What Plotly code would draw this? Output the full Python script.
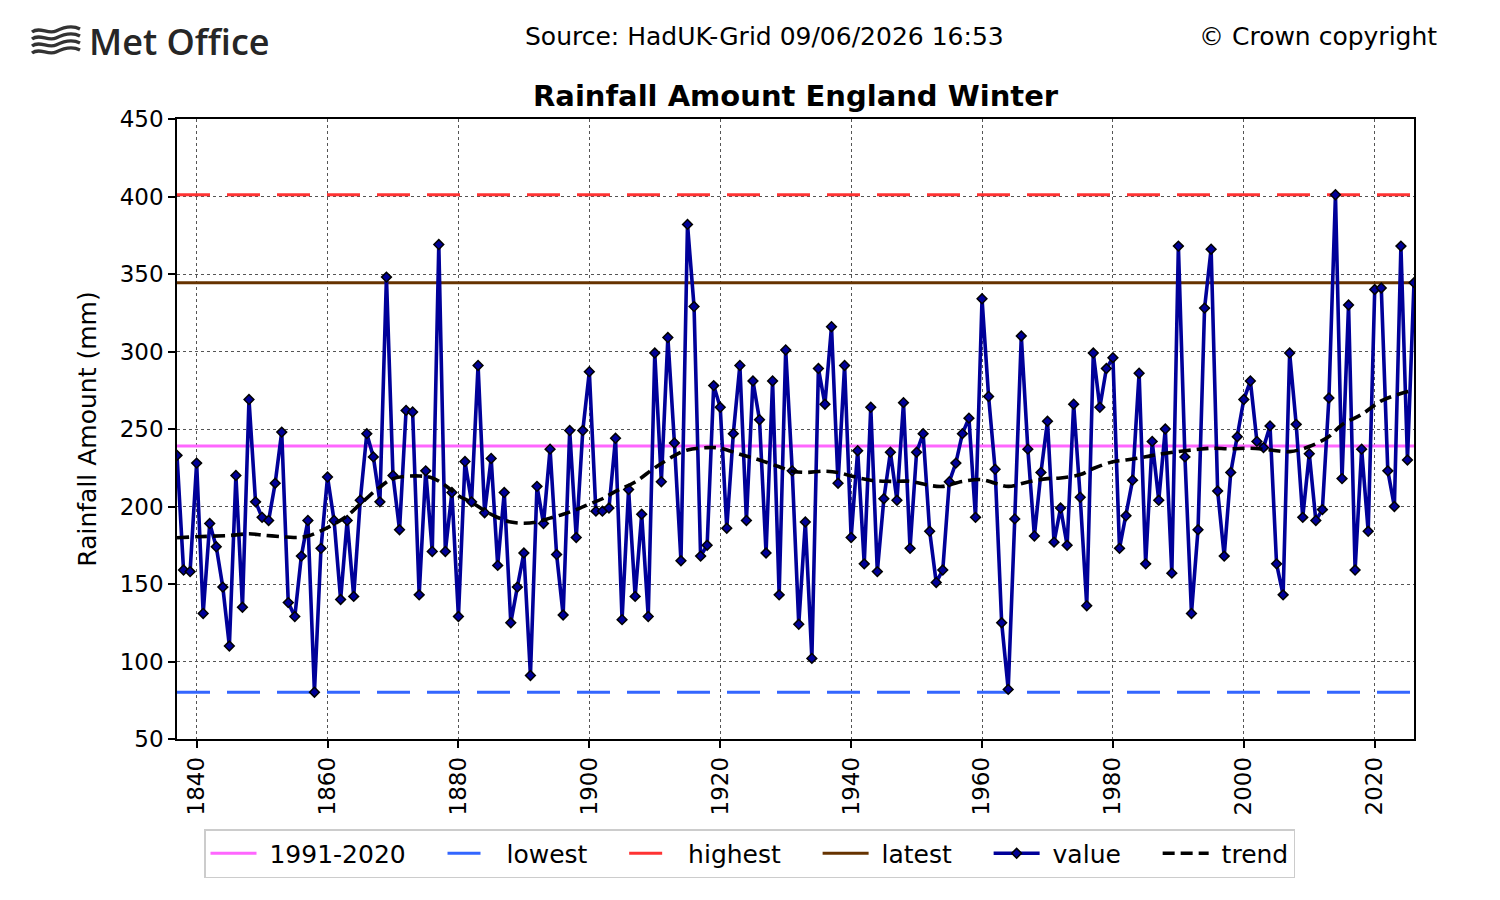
import plotly.graph_objects as go

# Pluie hiver Angleterre (HadUK-Grid)
annees = list(range(1837, 2027))
valeurs = [
    233, 159, 158, 228, 131, 189, 174, 148, 110, 220,   # 1837-1846
    135, 269, 203, 193, 191, 215, 248, 138, 129, 168,   # 1847-1856
    191, 80.2, 173, 219, 191, 140, 191, 142, 204, 247,  # 1857-1866
    232, 203, 348, 220, 185, 262, 261, 143, 223, 171,   # 1867-1876
    369, 171, 209, 129, 229, 203, 291, 196, 231, 162,   # 1877-1886
    209, 125, 148, 170, 91, 213, 189, 237, 169, 130,    # 1887-1896
    249, 180, 249, 287, 197, 197, 199, 244, 127, 211,   # 1897-1906
    142, 195, 129, 299, 216, 309, 241, 165, 382, 329,   # 1907-1916
    168, 175, 278, 264, 186, 247, 291, 191, 281, 256,   # 1917-1926
    170, 281, 143, 301, 223, 124, 190, 102, 289, 266,   # 1927-1936
    316, 215, 291, 180, 236, 163, 264, 158, 205, 235,   # 1937-1946
    204, 267, 173, 235, 247, 184, 151, 159, 216, 228,   # 1947-1956
    247, 257, 193, 334, 271, 224, 125, 82, 192, 310,    # 1957-1966
    237, 181, 222, 255, 177, 199, 175, 266, 206, 136,   # 1967-1976
    299, 264, 289, 296, 173, 194, 217, 286, 163, 242,   # 1977-1986
    204, 250, 157, 368, 232, 131, 185, 328, 366, 210,   # 1987-1996
    168, 222, 245, 269, 281, 242, 238, 252, 163, 143,   # 1997-2006
    299, 253, 193, 234, 191, 198, 270, 401.1, 218, 330, # 2007-2016
    159, 237, 184, 340, 341, 223, 200, 368, 230, 344.4, # 2017-2026
]

# tendance lissée (lue à quelques années)
annees_tendance = [1837, 1840, 1845, 1848, 1850, 1853, 1855, 1857, 1860, 1863,
                   1865, 1868, 1870, 1874, 1876, 1878, 1880, 1882, 1884, 1886,
                   1888, 1890, 1892, 1894, 1896, 1898, 1900, 1902, 1904, 1907,
                   1910, 1913, 1915, 1918, 1920, 1923, 1926, 1929, 1931, 1933,
                   1936, 1938, 1940, 1943, 1946, 1949, 1952, 1954, 1957, 1960,
                   1962, 1964, 1967, 1970, 1972, 1975, 1977, 1980, 1982, 1985,
                   1987, 1990, 1993, 1995, 1998, 2001, 2004, 2007, 2010, 2013,
                   2015, 2018, 2021, 2024, 2026]
tendance = [179.8, 180.5, 181.3, 182.4, 181.6, 180.5, 180.0, 181.0, 186.4, 194.0,
            201.6, 212.5, 218.0, 219.7, 218.4, 213.6, 207.0, 202.7, 197.3, 192.9,
            190.0, 189.2, 190.0, 192.5, 195.0, 198.0, 201.6, 205.0, 209.7, 215.8,
            225.0, 232.8, 236.5, 238.0, 237.6, 233.7, 230.0, 225.6, 222.8, 222.0,
            222.8, 222.0, 219.7, 216.9, 216.2, 216.2, 213.6, 213.0, 216.2, 217.3,
            215.0, 213.0, 215.8, 218.0, 218.4, 220.6, 224.5, 228.9, 230.0, 232.1,
            233.7, 235.4, 236.9, 237.6, 237.2, 237.6, 236.5, 235.4, 238.7, 245.2,
            252.8, 259.4, 268.1, 272.9, 275.0]

moyenne_1991_2020 = 239.1
plus_bas = min(valeurs)
plus_haut = max(valeurs)
dernier = valeurs[-1]

police = "DejaVu Sans"
bords_x = [annees[0], annees[-1]]
nbsp = "\u00a0"

def nom(texte, fin=True):
    # espacement comme dans la légende matplotlib
    return nbsp + texte + (nbsp * 4 if fin else "")

fig = go.Figure()

# lignes de référence
fig.add_trace(go.Scatter(x=bords_x, y=[moyenne_1991_2020] * 2, mode="lines", name=nom("1991-2020"),
                         line=dict(color="#ff66ff", width=3)))
fig.add_trace(go.Scatter(x=bords_x, y=[plus_bas] * 2, mode="lines", name=nom("lowest"),
                         line=dict(color="#3366ff", width=3, dash="33px,17px")))
fig.add_trace(go.Scatter(x=bords_x, y=[plus_haut] * 2, mode="lines", name=nom("highest"),
                         line=dict(color="#ff3333", width=3, dash="33px,17px")))
fig.add_trace(go.Scatter(x=bords_x, y=[dernier] * 2, mode="lines", name=nom("latest"),
                         line=dict(color="#663300", width=3)))

# série principale
fig.add_trace(go.Scatter(x=annees, y=valeurs, mode="lines+markers", name=nom("value"),
                         line=dict(color="#000099", width=3.6),
                         marker=dict(symbol="diamond", size=7.5, color="#000099",
                                     line=dict(color="black", width=1.5))))

# tendance
fig.add_trace(go.Scatter(x=annees_tendance, y=tendance, mode="lines", name=nom("trend", fin=False),
                         line=dict(color="black", width=3.6, dash="12px,6px", shape="spline", smoothing=1.0)))

# conversion pixels écran -> coordonnées papier (zone du graphe 177..1414 x 119..739)
def px(x):
    return (x - 177) / 1237

def py(y):
    return (739 - y) / 620

# petit logo Met Office (vagues)
vagues = []
for y0 in [30, 37, 44, 51]:
    chemin = "M {:.5f},{:.5f} C {:.5f},{:.5f} {:.5f},{:.5f} {:.5f},{:.5f} S {:.5f},{:.5f} {:.5f},{:.5f}".format(
        px(32), py(y0 + 2),
        px(40), py(y0 - 4), px(48), py(y0 + 5), px(56), py(y0 + 1),
        px(72), py(y0 - 5), px(80), py(y0 - 1))
    vagues.append(dict(type="path", path=chemin, xref="paper", yref="paper",
                       line=dict(color="#333333", width=3.4)))

annotations = [
    dict(text="<b>Rainfall Amount England Winter</b>", x=0.5, y=py(96), xref="paper", yref="paper",
         showarrow=False, font=dict(family=police, size=29, color="black"), xanchor="center", yanchor="middle"),
    dict(text="Source: HadUK-Grid 09/06/2026 16:53", x=px(764), y=py(37), xref="paper", yref="paper",
         showarrow=False, font=dict(family=police, size=25, color="black"), xanchor="center", yanchor="middle"),
    dict(text="© Crown copyright", x=px(1439), y=py(37), xref="paper", yref="paper",
         showarrow=False, font=dict(family=police, size=25, color="black"), xanchor="right", yanchor="middle"),
    dict(text="Met Office", x=px(87), y=py(42), xref="paper", yref="paper",
         showarrow=False, font=dict(family="Open Sans", size=36, color="#262626", weight=650),
         xanchor="left", yanchor="middle"),
]

fig.update_layout(
    width=1500, height=900,
    paper_bgcolor="white", plot_bgcolor="white",
    # la page décale la figure de 8 px : marges compensées
    margin=dict(l=169, r=94, t=111, b=169),
    font=dict(family=police, size=23, color="black"),
    showlegend=True,
    legend=dict(orientation="h", x=px(749.5), xanchor="center", y=py(829), yanchor="top",
                bordercolor="#cccccc", borderwidth=1.5, bgcolor="white",
                font=dict(family=police, size=25), itemwidth=46),
    annotations=annotations,
    shapes=vagues,
)

fig.update_xaxes(range=bords_x, tickmode="array", tickvals=list(range(1840, 2021, 20)),
                 tickangle=-90, ticks="outside", ticklen=7, tickwidth=1.5, tickcolor="black",
                 showline=True, linecolor="black", linewidth=1.5, mirror=True,
                 showgrid=True, gridcolor="#555555", griddash="dot", gridwidth=1.3, zeroline=False)
fig.update_yaxes(range=[50, 450], dtick=50, ticks="outside", ticklen=7, tickwidth=1.5, tickcolor="black",
                 showline=True, linecolor="black", linewidth=1.5, mirror=True,
                 showgrid=True, gridcolor="#555555", griddash="dot", gridwidth=1.3, zeroline=False,
                 title=dict(text="Rainfall Amount (mm)", font=dict(family=police, size=25), standoff=16))

fig.write_html("out.html")
